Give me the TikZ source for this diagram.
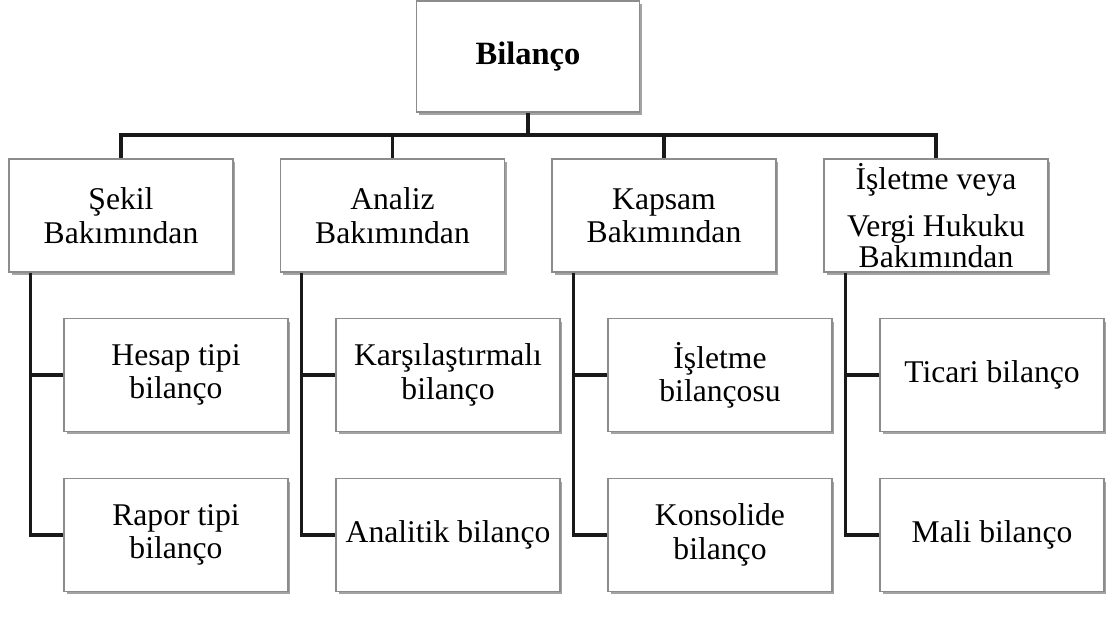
\documentclass[tikz,border=0pt]{standalone}
\usepackage{fontspec}
\setmainfont{Liberation Serif}
\usetikzlibrary{shadows}

\begin{document}
\begin{tikzpicture}[x=0.02cm,y=-0.02cm,
    box/.style={draw=black!45, line width=0.7pt, fill=white, align=center,
        inner sep=0pt, minimum width=4.48cm, minimum height=2.26cm,
        font=\fontsize{18}{19}\selectfont,
        drop shadow={shadow xshift=0.05cm, shadow yshift=-0.06cm, fill=black!45, opacity=0.8}},
    link/.style={draw=black!90, line width=1.8pt}]
\useasboundingbox (0,0) rectangle (1107,627);
\node[box, minimum width=4.46cm, minimum height=2.22cm, font=\fontsize{18.5}{19}\selectfont\bfseries] (top) at (528,56.5) {Bilanço};
\node[box] (sekil) at (121,215.5) {Şekil\\Bakımından};
\node[box] (analiz) at (392.5,215.5) {Analiz\\Bakımından};
\node[box] (kapsam) at (664,215.5) {Kapsam\\Bakımından};
\node[box] (vergi) at (936,215.5) {İşletme veya\\[0.26cm]Vergi Hukuku\\[-0.05cm]Bakımından};
\node[box] (hesap) at (176,375) {Hesap tipi\\bilanço};
\node[box] (rapor) at (176,535) {Rapor tipi\\bilanço};
\node[box] (karsi) at (448,375) {Karşılaştırmalı\\bilanço};
\node[box] (analitik) at (448,535) {Analitik bilanço};
\node[box] (isletme) at (720,375) {İşletme\\bilançosu};
\node[box] (konsol) at (720,535) {Konsolide\\bilanço};
\node[box] (ticari) at (992,375) {Ticari bilanço};
\node[box] (mali) at (992,535) {Mali bilanço};
\coordinate (bus) at (528,135);
\coordinate (d1) at ([xshift=0.44cm]sekil.south west);
\coordinate (d2) at ([xshift=0.44cm]analiz.south west);
\coordinate (d3) at ([xshift=0.44cm]kapsam.south west);
\coordinate (d4) at ([xshift=0.44cm]vergi.south west);
\draw[link] (top.south) -- (bus);
\draw[link] (sekil.north) -- (sekil.north |- bus) -- (vergi.north |- bus) -- (vergi.north);
\draw[link] (analiz.north) -- (analiz.north |- bus);
\draw[link] (kapsam.north) -- (kapsam.north |- bus);
\draw[link] (d1) |- (rapor.west);
\draw[link] (hesap.west) -- (hesap.west -| d1);
\draw[link] (d2) |- (analitik.west);
\draw[link] (karsi.west) -- (karsi.west -| d2);
\draw[link] (d3) |- (konsol.west);
\draw[link] (isletme.west) -- (isletme.west -| d3);
\draw[link] (d4) |- (mali.west);
\draw[link] (ticari.west) -- (ticari.west -| d4);
\end{tikzpicture}
\end{document}
